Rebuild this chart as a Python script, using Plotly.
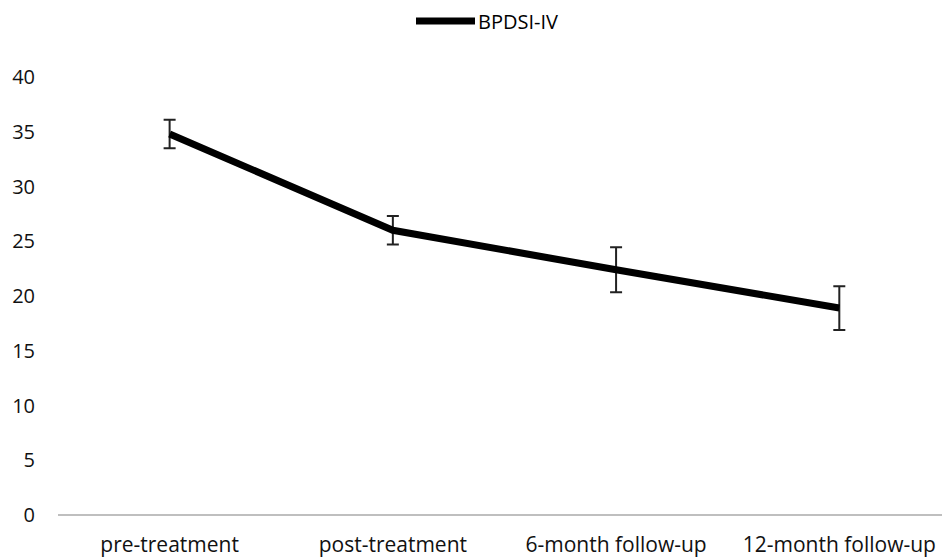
import plotly.graph_objects as go

categories = ["pre-treatment", "post-treatment", "6-month follow-up", "12-month follow-up"]
bpdsi_means = [34.8, 26.0, 22.4, 18.9]
bpdsi_errors = [1.3, 1.3, 2.05, 2.0]
y_ticks = [0, 5, 10, 15, 20, 25, 30, 35, 40]
series_name = "BPDSI-IV"

fig = go.Figure()
fig.add_trace(go.Scatter(
    x=list(range(len(categories))),
    y=bpdsi_means,
    mode="lines",
    name=series_name,
    showlegend=False,
    line=dict(color="black", width=7),
    error_y=dict(type="data", array=bpdsi_errors, visible=True,
                 color="#222222", thickness=2, width=6),
))

# legend drawn as a line sample plus label at the top centre
leg_y = (515 - 21) / 438
fig.add_shape(type="line", xref="paper", yref="paper",
              x0=(416 - 58) / 884, x1=(475 - 58) / 884,
              y0=leg_y, y1=leg_y,
              line=dict(color="black", width=7))
fig.add_annotation(text=series_name, xref="paper", yref="paper",
                   x=(476 - 58) / 884, y=leg_y,
                   xanchor="left", yanchor="middle", showarrow=False,
                   font=dict(size=20, color="black", family="Open Sans"))

fig.update_layout(
    width=942, height=559,
    margin=dict(l=58, r=0, t=77, b=44),
    plot_bgcolor="white", paper_bgcolor="white",
    font=dict(family="Open Sans", color="black", size=20),
    showlegend=False,
    xaxis=dict(
        tickmode="array", tickvals=list(range(len(categories))), ticktext=categories,
        range=[-0.5, 3.46], showgrid=False, zeroline=False, automargin=False,
        showline=False, ticks="", ticklabelstandoff=15,
        tickfont=dict(size=21, color="#111111"),
    ),
    yaxis=dict(
        range=[0, 40], tickvals=y_ticks, showgrid=False, zeroline=True,
        zerolinecolor="#bfbfbf", zerolinewidth=1.5, showline=False, automargin=False,
        ticks="", ticklabelstandoff=22, tickfont=dict(size=20, color="#111111"),
    ),
)

fig.write_html("out.html",
               config={"displayModeBar": False},
               post_script="document.body.style.margin='0';document.body.style.overflow='hidden';")
